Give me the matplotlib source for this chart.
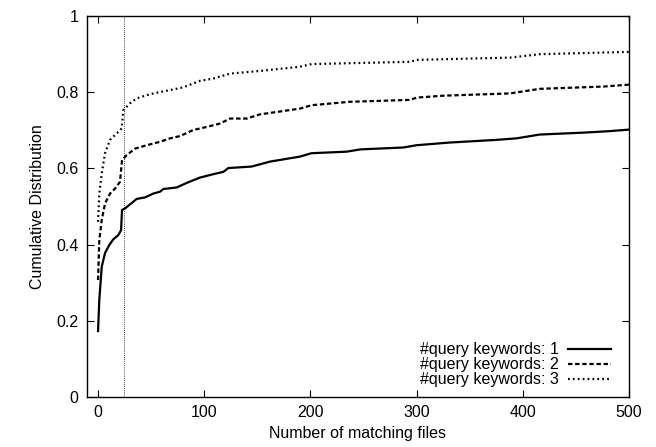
import matplotlib
matplotlib.use('Agg')
import matplotlib.pyplot as plt

plt.rcParams['font.family'] = ['Liberation Sans', 'DejaVu Sans']

# CDF of matching files
x1 = [0, 1.2, 3.5, 6.6, 10.6, 14.4, 19.1, 21.7, 22.6, 25.4, 36.4, 44.3, 52, 58.4,
      61.5, 74, 83.5, 96, 108.6, 118, 122.7, 144.7, 162, 190, 201, 234, 247,
      287.5, 300, 331, 375, 394, 416, 457, 482, 500]
y1 = [0.173, 0.255, 0.342, 0.378, 0.399, 0.414, 0.425, 0.438, 0.491, 0.495, 0.520,
      0.524, 0.534, 0.539, 0.546, 0.550, 0.562, 0.576, 0.585, 0.591, 0.601, 0.605,
      0.618, 0.631, 0.640, 0.644, 0.650, 0.655, 0.661, 0.668, 0.675, 0.679, 0.689,
      0.694, 0.698, 0.702]

x2 = [0, 1.2, 3.5, 6.6, 11.3, 16, 20.7, 22.6, 27, 34.8, 45.9, 58.4, 67.8, 77.2,
      89.7, 102.4, 114.9, 124.3, 140, 152.5, 190, 201, 237, 294, 300, 325, 388,
      416, 476, 500]
y2 = [0.307, 0.412, 0.465, 0.508, 0.534, 0.547, 0.565, 0.622, 0.635, 0.652, 0.661,
      0.670, 0.679, 0.685, 0.701, 0.709, 0.718, 0.731, 0.731, 0.742, 0.757, 0.766,
      0.775, 0.780, 0.786, 0.791, 0.797, 0.809, 0.815, 0.820]

x3 = [0, 1.2, 3.5, 6.6, 11.3, 17.6, 22.3, 23.8, 30.1, 36.4, 48.9, 64.7, 80.3, 96,
      108.6, 124.3, 152.5, 190, 201, 294, 300, 388, 416, 500]
y3 = [0.460, 0.534, 0.587, 0.640, 0.675, 0.692, 0.705, 0.753, 0.771, 0.784, 0.795,
      0.804, 0.813, 0.830, 0.836, 0.849, 0.856, 0.867, 0.874, 0.880, 0.885, 0.891,
      0.900, 0.906]

labels = ['#query keywords: 1', '#query keywords: 2', '#query keywords: 3']
cutoff = 24

fig = plt.figure(figsize=(6.56, 4.47), dpi=100)
ax = fig.add_axes([0.1326, 0.1119, 0.8262, 0.8521])

ax.plot(x1, y1, color='black', lw=1.6, ls='-', label=labels[0])
ax.plot(x2, y2, color='black', lw=1.6, ls=(0, (2.0, 1.2)), label=labels[1])
ax.plot(x3, y3, color='black', lw=1.6, ls=(0, (0.8, 1.4)), label=labels[2])
ax.axvline(cutoff, color='black', lw=0.6, ls=(0, (1, 1.5)))

ax.set_xlim(-10.4, 500)
ax.set_ylim(0, 1)
ax.set_xticks([0, 100, 200, 300, 400, 500])
ax.set_yticks([0, 0.2, 0.4, 0.6, 0.8, 1])
ax.set_yticklabels(['0', '0.2', '0.4', '0.6', '0.8', '1'])
ax.tick_params(direction='in', top=True, right=True, length=5, width=0.8,
               labelsize=11.5, pad=6)
for s in ax.spines.values():
    s.set_linewidth(1.0)

ax.set_xlabel('Number of matching files', fontsize=11.5, labelpad=4)
ax.set_ylabel('Cumulative Distribution', fontsize=11.5, labelpad=8)

ax.legend(loc='lower right', frameon=False, markerfirst=False, fontsize=11.5,
          handlelength=2.7, handletextpad=0.6, labelspacing=0.0,
          borderaxespad=0.2, bbox_to_anchor=(0.985, 0.0))

fig.savefig('out.png', dpi=100)
